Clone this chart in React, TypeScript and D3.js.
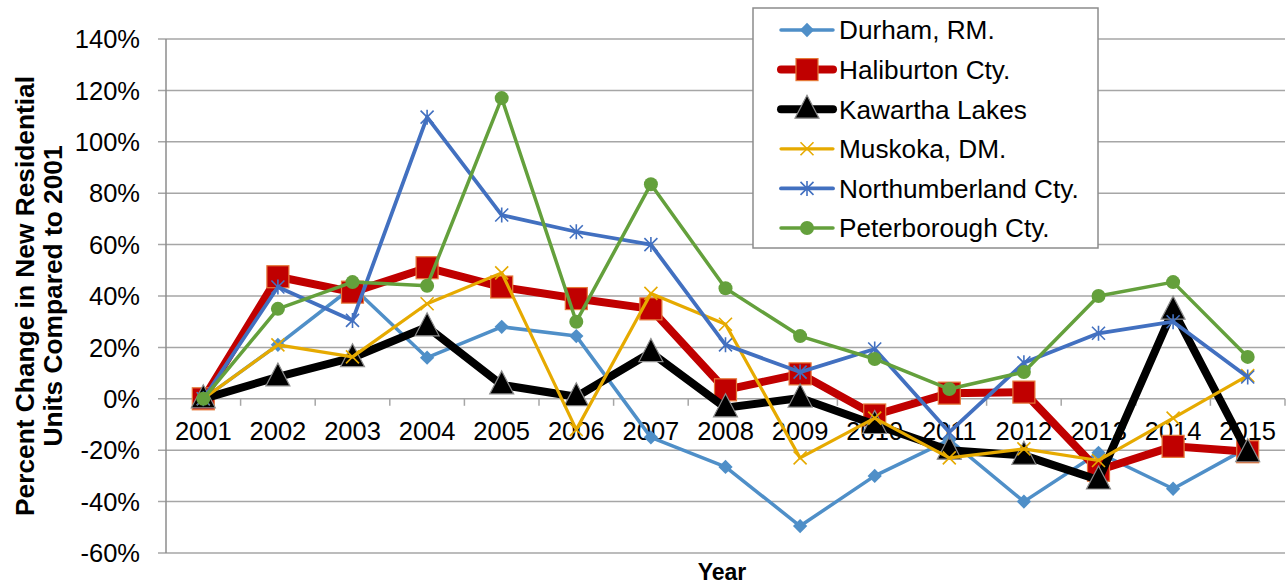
import React, { useEffect, useRef } from 'react';
import * as d3 from 'd3';

const years = ['2001', '2002', '2003', '2004', '2005', '2006', '2007', '2008', '2009', '2010', '2011', '2012', '2013', '2014', '2015'];

// percent change vs 2001
const durham = [0, 21, 43.5, 16, 28, 24.4, -15, -26.5, -49.5, -30, -16, -40, -21, -35, -19];
const haliburton = [0, 47.5, 41.5, 51, 43.5, 39, 35, 3.5, 9.7, -6.3, 2.2, 2.6, -27.8, -18.5, -20.6];
const kawartha = [0, 8.5, 16, 28, 5.4, 0.8, 18, -3.5, 0.3, -10, -20, -22, -31.6, 34.5, -21];
const muskoka = [0, 21, 16.3, 37, 49, -12, 41, 29, -23, -7.5, -23, -19.5, -24, -7.5, 9];
const northumberland = [0, 43.5, 30.5, 109.6, 71.5, 65, 60, 21, 10.4, 19.4, -13, 14, 25.5, 30, 8.5];
const peterborough = [0, 35, 45.4, 44, 117, 30, 83.5, 43, 24.4, 15.5, 3.8, 10.4, 40, 45.4, 16.3];

const yTicks = [-60, -40, -20, 0, 20, 40, 60, 80, 100, 120, 140];

type Marker = 'diamond' | 'square' | 'triangle' | 'x' | 'asterisk' | 'circle';

const seriesList: { name: string; values: number[]; color: string; width: number; marker: Marker }[] = [
  { name: 'Durham, RM.', values: durham, color: '#4F8FC8', width: 3.5, marker: 'diamond' },
  { name: 'Haliburton Cty.', values: haliburton, color: '#C00000', width: 8, marker: 'square' },
  { name: 'Kawartha Lakes', values: kawartha, color: '#000000', width: 8, marker: 'triangle' },
  { name: 'Muskoka, DM.', values: muskoka, color: '#E6AA00', width: 3.2, marker: 'x' },
  { name: 'Northumberland Cty.', values: northumberland, color: '#4270C0', width: 3.8, marker: 'asterisk' },
  { name: 'Peterborough Cty.', values: peterborough, color: '#64A03C', width: 3.5, marker: 'circle' },
];

const FONT = '"Liberation Sans", Arial, sans-serif';
const W = 1286;
const H = 588;

function drawMarker(g: d3.Selection<SVGGElement, unknown, null, undefined>, kind: Marker, cx: number, cy: number, color: string) {
  if (kind === 'diamond') {
    g.append('path')
      .attr('d', d3.symbol().type(d3.symbolDiamond2).size(130)())
      .attr('transform', `translate(${cx},${cy})`)
      .attr('fill', color);
  } else if (kind === 'square') {
    g.append('rect')
      .attr('x', cx - 11).attr('y', cy - 11)
      .attr('width', 22).attr('height', 22)
      .attr('fill', '#C00000')
      .attr('stroke', '#E5793A')
      .attr('stroke-width', 1.2);
  } else if (kind === 'triangle') {
    g.append('path')
      .attr('d', `M${cx},${cy - 14}L${cx + 12},${cy + 9}L${cx - 12},${cy + 9}Z`)
      .attr('fill', '#000')
      .attr('stroke', '#8C8C8C')
      .attr('stroke-width', 1.2);
  } else if (kind === 'x') {
    g.append('path')
      .attr('d', `M${cx - 6.5},${cy - 6.5}L${cx + 6.5},${cy + 6.5}M${cx - 6.5},${cy + 6.5}L${cx + 6.5},${cy - 6.5}`)
      .attr('stroke', color)
      .attr('stroke-width', 1.6);
  } else if (kind === 'asterisk') {
    g.append('path')
      .attr('d', `M${cx - 6.5},${cy - 6.5}L${cx + 6.5},${cy + 6.5}M${cx - 6.5},${cy + 6.5}L${cx + 6.5},${cy - 6.5}M${cx},${cy - 7.5}L${cx},${cy + 7.5}`)
      .attr('stroke', color)
      .attr('stroke-width', 1.6);
  } else {
    g.append('circle')
      .attr('cx', cx).attr('cy', cy).attr('r', 7)
      .attr('fill', color);
  }
}

export default function App() {
  const svgRef = useRef<SVGSVGElement>(null);

  useEffect(() => {
    if (!svgRef.current) return;
    const svg = d3.select(svgRef.current);
    svg.selectAll('*').remove();

    const x = d3.scaleBand().domain(years).range([166, 1285]);
    const y = d3.scaleLinear().domain([-60, 140]).range([553, 39]);
    const cx = (yr: string) => (x(yr) as number) + x.bandwidth() / 2;

    // gridlines
    svg.append('g')
      .selectAll('line')
      .data(yTicks)
      .join('line')
      .attr('x1', 158).attr('x2', 1285)
      .attr('y1', d => y(d)).attr('y2', d => y(d))
      .attr('stroke', '#A6A6A6')
      .attr('stroke-width', 1.5);

    // y axis line
    svg.append('line')
      .attr('x1', 166).attr('x2', 166)
      .attr('y1', y(140)).attr('y2', y(-60))
      .attr('stroke', '#8C8C8C')
      .attr('stroke-width', 1.5);

    // y tick labels
    svg.append('g')
      .selectAll('text')
      .data(yTicks)
      .join('text')
      .attr('x', 140)
      .attr('y', d => y(d))
      .attr('dy', '0.36em')
      .attr('text-anchor', 'end')
      .attr('font-family', FONT)
      .attr('font-size', 25.5)
      .attr('fill', '#000')
      .text(d => `${d}%`);

    // x tick marks on the 0% line
    const bounds = years.map(yr => x(yr) as number).concat([1285]).slice(1);
    svg.append('g')
      .selectAll('line')
      .data(bounds)
      .join('line')
      .attr('x1', d => d).attr('x2', d => d)
      .attr('y1', y(0)).attr('y2', y(0) + 7)
      .attr('stroke', '#A6A6A6')
      .attr('stroke-width', 1.5);

    // x labels
    svg.append('g')
      .selectAll('text')
      .data(years)
      .join('text')
      .attr('x', d => cx(d))
      .attr('y', 440)
      .attr('text-anchor', 'middle')
      .attr('font-family', FONT)
      .attr('font-size', 25.5)
      .attr('fill', '#000')
      .text(d => d);

    // series
    const line = d3.line<number>()
      .x((_, i) => cx(years[i]))
      .y(d => y(d));

    seriesList.forEach(s => {
      const g = svg.append('g');
      g.append('path')
        .datum(s.values)
        .attr('d', line)
        .attr('fill', 'none')
        .attr('stroke', s.color)
        .attr('stroke-width', s.width)
        .attr('stroke-linejoin', 'round')
        .attr('stroke-linecap', 'round');
      s.values.forEach((v, i) => drawMarker(g, s.marker, cx(years[i]), y(v), s.color));
    });

    // axis titles
    svg.append('text')
      .attr('x', 722)
      .attr('y', 580)
      .attr('text-anchor', 'middle')
      .attr('font-family', FONT)
      .attr('font-weight', 'bold')
      .attr('font-size', 23)
      .text('Year');

    const yt = svg.append('text')
      .attr('transform', 'translate(34,296) rotate(-90)')
      .attr('text-anchor', 'middle')
      .attr('font-family', FONT)
      .attr('font-weight', 'bold')
      .attr('font-size', 26.3);
    yt.append('tspan').attr('x', 0).attr('y', 0).text('Percent Change in New Residential');
    yt.append('tspan').attr('x', 0).attr('y', 28).text('Units Compared to 2001');

    // legend
    const lg = svg.append('g');
    lg.append('rect')
      .attr('x', 753).attr('y', 8)
      .attr('width', 345).attr('height', 240)
      .attr('fill', '#fff')
      .attr('stroke', '#8C8C8C')
      .attr('stroke-width', 1.5);
    seriesList.forEach((s, i) => {
      const ly = 30 + i * 39.6;
      const row = lg.append('g');
      row.append('line')
        .attr('x1', 781).attr('x2', 833)
        .attr('y1', ly).attr('y2', ly)
        .attr('stroke', s.color)
        .attr('stroke-width', s.width)
        .attr('stroke-linecap', 'round');
      drawMarker(row, s.marker, 807, ly, s.color);
      row.append('text')
        .attr('x', 839)
        .attr('y', ly)
        .attr('dy', '0.36em')
        .attr('font-family', FONT)
        .attr('font-size', 26.2)
        .attr('fill', '#000')
        .text(s.name);
    });
  }, []);

  return (
    <div style={{ position: 'fixed', left: 0, top: 0, background: '#fff' }}>
      <svg ref={svgRef} width={W} height={H} style={{ display: 'block' }} />
    </div>
  );
}
